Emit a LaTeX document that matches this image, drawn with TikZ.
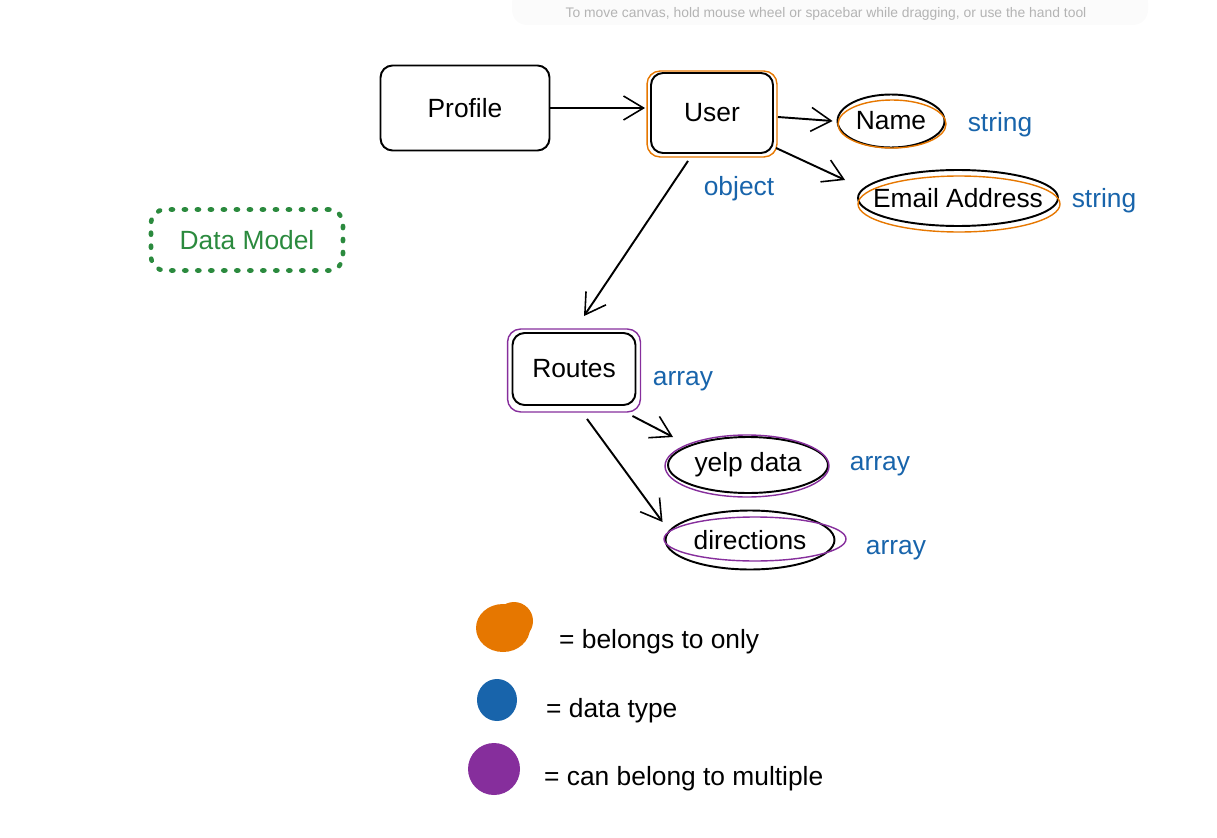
\documentclass[tikz,border=0pt]{standalone}
\usepackage{fontspec}
\setmainfont{Liberation Sans}
\usetikzlibrary{arrows.meta,shapes.geometric}
\definecolor{exorange}{HTML}{E67700}
\definecolor{exblue}{HTML}{1864AB}
\definecolor{expurple}{HTML}{862E9C}
\definecolor{exgreen}{HTML}{2B8A3E}
\definecolor{hintgray}{HTML}{B4B4B4}
\newcommand{\handfont}{\fontsize{15}{18}\selectfont}

\begin{document}
\begin{tikzpicture}[
    x=0.02cm, y=-0.02cm,
  box/.style={draw, rounded corners=0.24cm, line width=1.1pt, inner sep=0pt, font=\handfont},
  oval/.style={draw, ellipse, line width=1.1pt, inner sep=0pt,
    label={[font=\handfont]center:#1}},
  ring/.style={line width=0.8pt},
  arr/.style={line width=1.1pt, -{Straight Barb[length=0.4cm, width=0.48cm, line width=0.9pt]}},
  dtype/.style={text=exblue, font=\handfont},
  legend/.style={anchor=west, font=\handfont}
]
\useasboundingbox (0,0) rectangle (1217,838);

% --- canvas hint at the top ---
\fill[black!1.5, rounded corners=0.3cm] (512,-12) rectangle (1148,25);
\node[text=hintgray, font=\fontsize{7.9}{9}\selectfont] (hint) at (826,14)
  {To move canvas, hold mouse wheel or spacebar while dragging, or use the hand tool};

% --- boxes ---
\node[box, minimum width=3.38cm, minimum height=1.7cm] (profile) at (465,108) {Profile};
\node[box, minimum width=2.44cm, minimum height=1.6cm] (user) at (712,113) {User};
\node[box, minimum width=2.46cm, minimum height=1.44cm] (routes) at (574,369) {Routes};
\draw[ring, exorange, rounded corners=0.26cm]
  ([shift={(-3,-1)}]user.north west) rectangle ([shift={(3,3)}]user.south east);
\draw[ring, expurple, rounded corners=0.26cm]
  ([shift={(-4,-3)}]routes.north west) rectangle ([shift={(4,6)}]routes.south east);

% --- fields ---
\node[oval=Name, minimum width=2.14cm, minimum height=1.06cm] (name) at (891,121) {};
\node[oval=Email Address, minimum width=4.0cm, minimum height=1.12cm] (email) at (958,198) {};
\node[oval=yelp data, minimum width=3.2cm, minimum height=1.12cm] (yelp) at (748,465) {};
\node[oval=directions, minimum width=3.38cm, minimum height=1.18cm] (dirs) at (750,540) {};
\draw[ring, exorange] ([shift={(1,3)}]name.center) ellipse [x radius=54, y radius=24];
\draw[ring, exorange] ([shift={(1,6)}]email.center) ellipse [x radius=101, y radius=28];
\draw[ring, expurple] ([shift={(-1,1)}]yelp.center) ellipse [x radius=82, y radius=31];
\draw[ring, expurple] ([shift={(5,-1)}]dirs.center) ellipse [x radius=91, y radius=22];

% --- data types ---
\node[dtype] (tobject) at (739,189) {object};
\node[dtype] (tname) at (1000,125) {string};
\node[dtype] (temail) at (1104,201) {string};
\node[dtype] (troutes) at (683,381) {array};
\node[dtype] (tyelp) at (880,466) {array};
\node[dtype] (tdirs) at (896,550) {array};

% --- connectors ---
\draw[arr] (profile.east) -- ([shift={(-5,0)}]user.west |- profile.east);
\draw[arr] ([shift={(4,4)}]user.east) -- ([shift={(-4,0)}]name.west);
\draw[arr] ([shift={(2,-6)}]user.south east) -- ([shift={(-12,-18)}]email.west);
\draw[arr] ([shift={(-24,7)}]user.south) -- ([shift={(10,-16)}]routes.north);
\draw[arr] ([shift={(-4,10)}]routes.south east) -- ([shift={(-75,-28)}]yelp.center);
\draw[arr] ([shift={(13,13)}]routes.south) -- ([shift={(-2,-18)}]dirs.west);

% --- side note ---
\node[draw=exgreen, text=exgreen, font=\handfont, line width=2.6pt, line cap=round,
  dash pattern=on 1.2pt off 6.2pt, rounded corners=0.28cm,
  minimum width=3.84cm, minimum height=1.22cm] (note) at (247,240) {Data Model};

% --- legend ---
\fill[exorange] (503,628) ellipse [x radius=27, y radius=24];
\fill[exorange] (514,621) circle [radius=19];
\fill[exblue] (497,700) ellipse [x radius=20, y radius=21];
\fill[expurple] (494,769) ellipse [x radius=26, y radius=26];
\node[legend] (lorange) at (553,642) {= belongs to only};
\node[legend] (lblue) at (540,711) {= data type};
\node[legend] (lpurple) at (538,779) {= can belong to multiple};
\end{tikzpicture}
\end{document}
